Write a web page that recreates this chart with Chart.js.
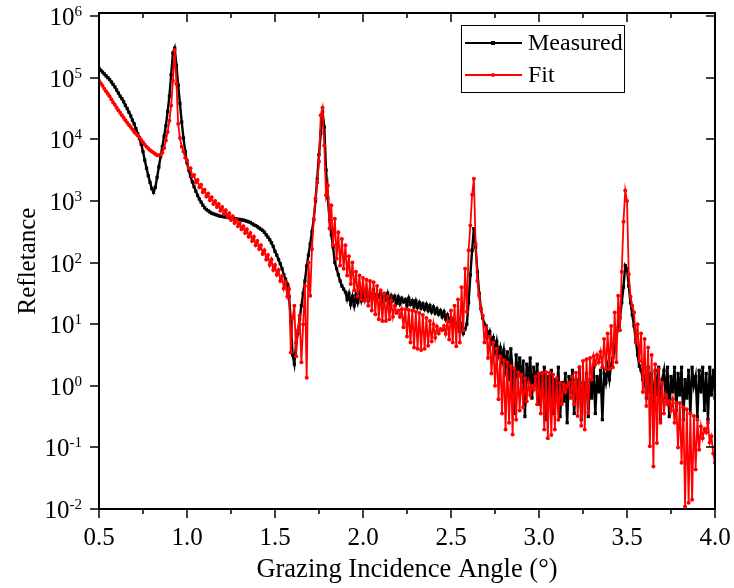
<!DOCTYPE html>
<html lang="en">
<head>
  <meta charset="UTF-8">
  <title>Refletance vs Grazing Incidence Angle</title>
  <style>
    body {
      margin: 0;
      padding: 0;
      background-color: #fff;
    }
    #chart-container {
      width: 734px;
      height: 588px;
    }
  </style>
  <script src="https://cdn.jsdelivr.net/npm/chart.js"></script>
</head>
<body>
  <div id="chart-container">
    <canvas id="xrrChart" width="734" height="588"></canvas>
  </div>
  <script>
    // Sampling grid of the angle axis (degrees)
    const angleStart = 0.5;
    const angleStep = 0.01;

    // Measured reflectance, log10 values (one row per 0.1 deg)
    const measuredLog = [
      5.15, 5.12, 5.09, 5.06, 5.03, 5.00, 4.97, 4.93, 4.89, 4.85,
      4.80, 4.75, 4.70, 4.66, 4.61, 4.55, 4.50, 4.44, 4.38, 4.31,
      4.25, 4.17, 4.09, 4.01, 3.92, 3.80, 3.66, 3.53, 3.41, 3.30,
      3.20, 3.14, 3.22, 3.38, 3.55, 3.72, 3.88, 4.05, 4.22, 4.45,
      4.70, 5.05, 5.40, 5.48, 5.20, 4.88, 4.58, 4.28, 4.02, 3.80,
      3.62, 3.50, 3.40, 3.31, 3.23, 3.16, 3.09, 3.03, 2.98, 2.93,
      2.89, 2.86, 2.84, 2.82, 2.80, 2.79, 2.78, 2.77, 2.76, 2.75,
      2.75, 2.74, 2.74, 2.73, 2.73, 2.72, 2.72, 2.71, 2.71, 2.70,
      2.70, 2.69, 2.69, 2.68, 2.67, 2.66, 2.65, 2.63, 2.61, 2.60,
      2.58, 2.56, 2.54, 2.52, 2.49, 2.45, 2.41, 2.37, 2.32, 2.26,
      2.18, 2.12, 2.05, 1.98, 1.90, 1.80, 1.73, 1.65, 1.45, 1.05,
      0.50, 0.35, 0.70, 0.85, 1.08, 1.30, 1.50, 1.70, 1.94, 2.12,
      2.30, 2.50, 2.70, 3.00, 3.36, 3.75, 4.10, 4.45, 4.20, 3.50,
      3.05, 2.70, 2.45, 2.25, 2.00, 1.90, 1.80, 1.70, 1.62, 1.57,
      1.52, 1.40, 1.50, 1.32, 1.45, 1.30, 1.48, 1.35, 1.50, 1.38,
      1.52, 1.40, 1.55, 1.38, 1.50, 1.42, 1.56, 1.40, 1.48, 1.44,
      1.50, 1.38, 1.47, 1.40, 1.50, 1.35, 1.46, 1.38, 1.45, 1.34,
      1.44, 1.33, 1.42, 1.36, 1.40, 1.30, 1.42, 1.32, 1.38, 1.28,
      1.38, 1.27, 1.35, 1.26, 1.33, 1.24, 1.32, 1.22, 1.30, 1.20,
      1.28, 1.18, 1.25, 1.16, 1.22, 1.12, 1.20, 1.08, 1.15, 1.05,
      1.10, 1.00, 1.06, 0.95, 1.02, 0.88, 0.98, 0.85, 0.92, 1.00,
      1.35, 1.80, 2.20, 2.55, 2.25, 1.85, 1.50, 1.25, 1.10, 1.00,
      0.97, 0.80, 0.88, 0.70, 0.78, 0.55, 0.72, 0.50, 0.62, 0.40,
      0.58, 0.30, 0.55, 0.10, 0.60, 0.25, -0.45, 0.50, 0.15, 0.45,
      0.05, 0.40, -0.50, 0.35, 0.10, 0.45, -0.20, 0.30, 0.00, 0.35,
      -0.30, 0.20, -0.10, 0.30, -0.55, 0.15, -0.20, 0.25, -0.45, 0.10,
      -0.15, 0.30, -0.50, 0.05, -0.25, 0.20, -0.60, 0.15, -0.10, 0.25,
      -0.45, 0.10, -0.20, 0.30, -0.55, 0.05, -0.15, 0.20, -0.50, 0.10,
      -0.20, 0.30, -0.45, 0.15, -0.10, 0.25, -0.55, 0.20, 0.05, 0.30,
      0.10, 0.35, 0.45, 0.60, 0.80, 0.95, 1.10, 1.35, 1.60, 1.95,
      1.90, 1.62, 1.35, 1.15, 0.97, 0.75, 0.50, 0.32, 0.25, 0.10,
      0.15, -0.20, 0.30, -0.10, 0.20, -0.45, 0.25, -0.15, 0.30, -0.55,
      0.10, 0.25, -0.20, 0.30, -0.50, 0.15, -0.10, 0.30, -0.40, 0.20,
      -0.15, 0.30, -0.55, 0.10, -0.20, 0.25, -0.45, 0.30, 0.00, 0.15,
      -0.50, 0.25, -0.10, 0.30, -0.40, 0.20, -0.55, 0.30, -0.15, 0.25,
      -0.20
    ];

    // Fitted reflectance, log10 values
    const fitLog = [
      4.95, 4.91, 4.87, 4.82, 4.78, 4.74, 4.70, 4.65, 4.60, 4.56,
      4.51, 4.47, 4.43, 4.39, 4.35, 4.31, 4.27, 4.23, 4.20, 4.16,
      4.12, 4.09, 4.06, 4.03, 3.99, 3.95, 3.91, 3.88, 3.85, 3.82,
      3.80, 3.78, 3.76, 3.74, 3.74, 3.75, 3.78, 3.86, 3.98, 4.12,
      4.30, 4.55, 4.95, 5.45, 4.90, 4.25, 4.02, 3.88, 3.80, 3.70,
      3.66, 3.52, 3.53, 3.40, 3.42, 3.30, 3.34, 3.22, 3.26, 3.14,
      3.18, 3.07, 3.12, 3.01, 3.06, 2.95, 3.00, 2.90, 2.95, 2.84,
      2.90, 2.79, 2.85, 2.74, 2.80, 2.69, 2.75, 2.64, 2.70, 2.59,
      2.64, 2.54, 2.59, 2.48, 2.54, 2.42, 2.48, 2.35, 2.42, 2.28,
      2.35, 2.22, 2.28, 2.14, 2.20, 2.05, 2.12, 1.96, 2.05, 1.88,
      1.96, 1.80, 1.88, 1.70, 1.78, 1.58, 1.68, 1.45, 1.57, 0.54,
      1.10, 1.30, 0.48, 0.90, 1.14, 0.38, 1.00, 1.62, 0.13, 2.00,
      1.46, 2.22, 2.70, 3.04, 3.30, 3.64, 4.39, 4.51, 3.90, 3.09,
      3.25, 2.55, 2.93, 2.28, 2.71, 2.06, 2.49, 1.95, 2.38, 1.90,
      2.28, 1.79, 2.10, 1.65, 2.00, 1.55, 1.85, 1.45, 1.79, 1.40,
      1.75, 1.38, 1.72, 1.30, 1.70, 1.22, 1.68, 1.16, 1.62, 1.08,
      1.55, 1.05, 1.50, 1.05, 1.45, 1.08, 1.38, 1.12, 1.30, 1.18,
      1.22, 1.12, 1.24, 0.95, 1.24, 0.80, 1.23, 0.70, 1.22, 0.62,
      1.20, 0.60, 1.18, 0.58, 1.15, 0.60, 1.10, 0.65, 1.05, 0.72,
      1.00, 0.78, 0.96, 0.85, 0.92, 0.90, 0.97, 0.84, 1.05, 0.75,
      1.22, 0.70, 1.30, 0.64, 1.40, 0.70, 1.60, 0.90, 1.90, 1.20,
      2.20, 2.60, 3.10, 3.36, 2.30, 1.70, 1.46, 1.25, 1.14, 0.70,
      0.95, 0.45, 0.80, 0.20, 0.70, 0.00, 0.60, -0.22, 0.48, -0.45,
      0.42, -0.71, 0.38, -0.60, 0.32, -0.79, 0.28, -0.55, 0.22, -0.40,
      0.18, -0.35, 0.12, -0.25, 0.05, -0.15, 0.00, -0.06, 0.15, -0.30,
      0.20, -0.45, 0.21, -0.71, 0.22, -0.85, 0.21, -0.80, 0.18, -0.71,
      0.12, -0.55, 0.05, -0.30, 0.02, -0.10, 0.00, 0.05, -0.20, 0.15,
      -0.30, 0.21, -0.49, 0.30, -0.65, 0.40, -0.71, 0.43, -0.44, 0.45,
      0.10, 0.48, 0.35, 0.50, 0.38, 0.55, 0.30, 0.76, 0.27, 0.85,
      0.27, 0.97, 0.30, 1.19, 0.38, 1.46, 0.90, 1.85, 2.66, 3.17,
      3.00, 1.81, 1.45, 1.30, 1.19, 0.70, 1.00, 0.40, 0.85, -0.10,
      0.76, -0.33, 0.62, -0.98, 0.50, -1.31, 0.35, -0.93, 0.27, -0.60,
      0.05, -0.45, -0.15, -0.30, -0.25, -0.40, -0.22, -0.60, -0.28, -1.00,
      -0.28, -1.25, -0.35, -1.96, -0.38, -1.90, -0.45, -1.85, -0.49, -1.36,
      -0.55, -1.04, -0.66, -0.85, -0.70, -0.76, -0.60, -0.92, -0.82, -1.10,
      -1.25
    ];

    // Axis ticks
    const xMajorTicks = [0.5, 1.0, 1.5, 2.0, 2.5, 3.0, 3.5, 4.0];
    const xMinorTicks = [0.75, 1.25, 1.75, 2.25, 2.75, 3.25, 3.75];
    const yTickExps = [-2, -1, 0, 1, 2, 3, 4, 5, 6];

    const seriesNames = ['Measured', 'Fit'];
    const seriesColors = ['#000000', '#ff0000'];

    const serif = "'Liberation Serif', 'Times New Roman', serif";

    const toPoints = (logs) => logs.map((v, i) => ({
      x: +(angleStart + i * angleStep).toFixed(2),
      y: Math.pow(10, v),
    }));

    // Frame, inward/outward tick marks, superscript y labels and the boxed legend
    const framePlugin = {
      id: 'framePlugin',
      afterDatasetsDraw(chart) {
        const { ctx, chartArea: a, scales } = chart;
        const xs = scales.x, ys = scales.y;
        ctx.save();
        ctx.strokeStyle = '#000';
        ctx.lineWidth = 2;
        ctx.strokeRect(a.left, a.top, a.right - a.left, a.bottom - a.top);

        ctx.lineWidth = 1.5;
        ctx.beginPath();
        xMajorTicks.forEach((v) => {
          const px = Math.round(xs.getPixelForValue(v));
          ctx.moveTo(px, a.bottom); ctx.lineTo(px, a.bottom + 9);
          ctx.moveTo(px, a.top); ctx.lineTo(px, a.top + 9);
        });
        xMinorTicks.forEach((v) => {
          const px = Math.round(xs.getPixelForValue(v));
          ctx.moveTo(px, a.bottom); ctx.lineTo(px, a.bottom + 5);
          ctx.moveTo(px, a.top); ctx.lineTo(px, a.top + 5);
        });
        yTickExps.forEach((e) => {
          const py = Math.round(ys.getPixelForValue(Math.pow(10, e)));
          ctx.moveTo(a.left - 9, py); ctx.lineTo(a.left, py);
          ctx.moveTo(a.right - 9, py); ctx.lineTo(a.right, py);
        });
        ctx.stroke();

        // y labels as 10 with a raised exponent
        ctx.fillStyle = '#000';
        ctx.textBaseline = 'alphabetic';
        ctx.textAlign = 'left';
        const labelRight = a.left - 17;
        yTickExps.forEach((e) => {
          const py = ys.getPixelForValue(Math.pow(10, e));
          ctx.font = '15px ' + serif;
          const sup = String(e);
          const supW = ctx.measureText(sup).width;
          ctx.fillText(sup, labelRight - supW, py);
          ctx.font = '25px ' + serif;
          const baseW = ctx.measureText('10').width;
          ctx.fillText('10', labelRight - supW - baseW, py + 9);
        });

        // legend box
        const lx = 461, ly = 25, lw = 163, lh = 67;
        ctx.lineWidth = 1;
        ctx.strokeRect(lx + 0.5, ly + 0.5, lw, lh);
        ctx.font = '24px ' + serif;
        ctx.textBaseline = 'middle';
        seriesNames.forEach((name, i) => {
          const cy = ly + 18 + i * 32;
          ctx.strokeStyle = seriesColors[i];
          ctx.fillStyle = seriesColors[i];
          ctx.lineWidth = 2;
          ctx.beginPath();
          ctx.moveTo(lx + 4, cy);
          ctx.lineTo(lx + 61, cy);
          ctx.stroke();
          if (i === 0) {
            ctx.fillRect(lx + 30, cy - 2, 4, 4);
          } else {
            ctx.beginPath();
            ctx.arc(lx + 32, cy, 2, 0, Math.PI * 2);
            ctx.fill();
          }
          ctx.fillStyle = '#000';
          ctx.fillText(name, lx + 67, cy + 1);
        });
        ctx.restore();
      },
    };

    const ctx = document.getElementById('xrrChart').getContext('2d');
    const xrrChart = new Chart(ctx, {
      type: 'line',
      data: {
        datasets: [
          {
            label: seriesNames[0],
            data: toPoints(measuredLog),
            borderColor: seriesColors[0],
            backgroundColor: seriesColors[0],
            borderWidth: 2.4,
            pointStyle: 'rect',
            pointRadius: 2.3,
            pointBorderWidth: 0,
            fill: false,
            tension: 0,
            order: 1,
          },
          {
            label: seriesNames[1],
            data: toPoints(fitLog),
            borderColor: seriesColors[1],
            backgroundColor: seriesColors[1],
            borderWidth: 1.8,
            pointStyle: 'circle',
            pointRadius: 2,
            pointBorderWidth: 0,
            fill: false,
            tension: 0,
            order: 0,
          },
        ],
      },
      plugins: [framePlugin],
      options: {
        responsive: false,
        animation: false,
        layout: { padding: { top: 13, right: 19, left: 0, bottom: 0 } },
        plugins: {
          legend: { display: false },
          tooltip: { enabled: false },
        },
        scales: {
          x: {
            type: 'linear',
            min: 0.5,
            max: 4.0,
            grid: { display: false, drawTicks: false },
            border: { display: false },
            ticks: {
              stepSize: 0.5,
              padding: 14,
              color: '#000',
              font: { family: serif, size: 25 },
              callback: (v) => Number(v).toFixed(1),
            },
            title: {
              display: true,
              text: 'Grazing Incidence Angle (°)',
              color: '#000',
              font: { family: serif, size: 26.5 },
              padding: { top: 0, bottom: 2 },
            },
            afterFit: (scale) => {
              scale.height = 79;
              scale.paddingLeft = 0;
              scale.paddingRight = 0;
            },
          },
          y: {
            type: 'logarithmic',
            min: 0.01,
            max: 1.12e6,
            grid: { display: false, drawTicks: false },
            border: { display: false },
            ticks: { display: false },
            title: {
              display: true,
              text: 'Refletance',
              color: '#000',
              font: { family: serif, size: 25 },
              padding: { top: 13, bottom: 0 },
            },
            afterFit: (scale) => {
              scale.width = 99;
              scale.paddingTop = 0;
              scale.paddingBottom = 0;
            },
          },
        },
      },
    });
  </script>
</body>
</html>
